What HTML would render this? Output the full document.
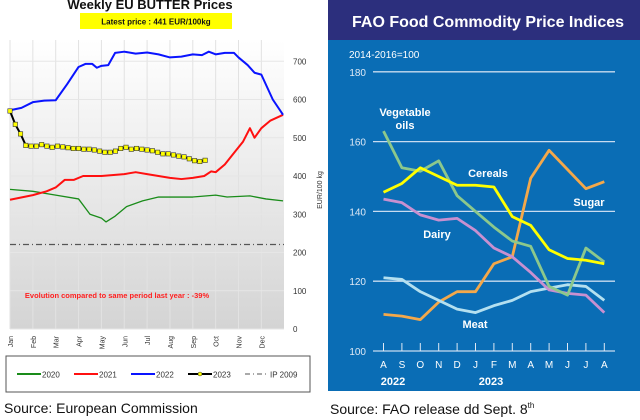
<!DOCTYPE html>
<html><head><meta charset="utf-8"><style>
body{margin:0;width:640px;height:420px;background:#fff;overflow:hidden;font-family:"Liberation Sans",sans-serif}
svg{position:absolute;left:0;top:0}
</style></head><body>
<svg width="640" height="420">
<defs><linearGradient id="bg" x1="0" y1="0" x2="0" y2="1"><stop offset="0" stop-color="#ffffff"/><stop offset="1" stop-color="#d4d4d4"/></linearGradient></defs>
<g id="left">
<text x="150" y="9" text-anchor="middle" font-size="13" font-weight="bold" fill="#111">Weekly EU BUTTER Prices</text>
<rect x="80" y="13" width="152" height="16" fill="#ffff00"/>
<text x="156" y="24.5" text-anchor="middle" font-size="8" font-weight="bold" fill="#111">Latest price : 441 EUR/100kg</text>
<rect x="10" y="40" width="274" height="289" fill="url(#bg)"/>
<g id="lgrid"></g>
<text x="117" y="298" text-anchor="middle" font-size="7.5" font-weight="bold" fill="#ff2020">Evolution compared to same period last year : -39%</text>
<text transform="translate(322,190) rotate(-90)" text-anchor="middle" font-size="7" fill="#333">EUR/100 kg</text>
<g id="lmarks"></g>
<rect x="6" y="356" width="304" height="36" fill="#fff" stroke="#555" stroke-width="1"/>
<g id="legend"></g>
<text x="4" y="413" font-size="14" fill="#111">Source: European Commission</text>
</g>
<g id="right">
<rect x="328" y="0" width="312" height="40" fill="#2c2f7d"/>
<text x="352" y="27" font-size="16" font-weight="bold" fill="#fff">FAO Food Commodity Price Indices</text>
<rect x="328" y="40" width="312" height="351" fill="#0a6db5"/>
<text x="349" y="58" font-size="10" fill="#fff">2014-2016=100</text>
<g id="rgrid"></g>
<g id="rmarks"></g>
<text x="405" y="116" text-anchor="middle" font-size="11" font-weight="bold" fill="#fff">Vegetable</text>
<text x="405" y="129" text-anchor="middle" font-size="11" font-weight="bold" fill="#fff">oils</text>
<text x="488" y="177" text-anchor="middle" font-size="11" font-weight="bold" fill="#fff">Cereals</text>
<text x="589" y="206" text-anchor="middle" font-size="11" font-weight="bold" fill="#fff">Sugar</text>
<text x="437" y="238" text-anchor="middle" font-size="11" font-weight="bold" fill="#fff">Dairy</text>
<text x="475" y="328" text-anchor="middle" font-size="11" font-weight="bold" fill="#fff">Meat</text>
<text x="393" y="385" text-anchor="middle" font-size="11" font-weight="bold" fill="#fff">2022</text>
<text x="491" y="385" text-anchor="middle" font-size="11" font-weight="bold" fill="#fff">2023</text>
<text x="330" y="414" font-size="14" fill="#111">Source: FAO release dd Sept. 8<tspan font-size="8" dy="-6">th</tspan></text>
</g>
</svg>
<script>
const NS="http://www.w3.org/2000/svg";
function mk(p,t,a){const e=document.createElementNS(NS,t);for(const k in a)e.setAttribute(k,a[k]);p.appendChild(e);return e;}
// ---- Left chart data ----
const monthLabels=["Jan","Feb","Mar","Apr","May","Jun","Jul","Aug","Sep","Oct","Nov","Dec"];
const yTicksL=[0,100,200,300,400,500,600,700];
const m2022=[0,0.5,1,1.5,2,2.5,3,3.3,3.6,3.8,4,4.3,4.6,5,5.5,6,6.5,7,7.5,8,8.4,8.7,9,9.4,9.8,10,10.4,10.7,11,11.5,11.95];
const v2022=[572,578,593,597,598,640,685,693,693,683,688,690,722,725,720,723,718,710,712,718,716,725,718,722,722,710,690,670,665,600,560];
const m2021=[0,1,1.6,2,2.4,2.8,3.2,4,5,5.5,6,6.5,7,7.5,8,8.5,8.8,9,9.4,9.8,10.2,10.5,10.7,11,11.4,11.95];
const v2021=[338,350,360,370,390,390,400,400,405,410,405,400,395,392,395,400,412,410,430,460,490,525,500,525,545,560];
const m2020=[0,1,2,3,3.5,4,4.2,4.6,5.1,5.8,6.5,8,9,9.5,10.5,11.2,11.95];
const v2020=[365,360,350,340,300,290,280,295,320,335,345,345,350,345,348,340,335];
const v2023=[570,535,510,480,478,478,482,478,475,478,476,474,472,472,470,470,468,465,462,462,465,472,475,470,472,470,468,466,462,458,458,455,452,450,445,440,438,441];
const ip2009=[221];
const lx=m=>10+m*22.85, ly=v=>329-v*0.3825;
const lg=document.getElementById('lgrid'), lm=document.getElementById('lmarks');
monthLabels.forEach((m,i)=>{
 const l=mk(lg,'line',{x1:lx(i),x2:lx(i),y1:40,y2:329,stroke:'#e2e2e2','stroke-width':1});
 
 
 const t=mk(lg,'text',{transform:`translate(${lx(i)+3},${336}) rotate(-90)`,'text-anchor':'end','font-size':7,fill:'#333'});
 t.textContent=m;
 
 
});
yTicksL.forEach(v=>{
 const l=mk(lg,'line',{x1:10,x2:284,y1:ly(v),y2:ly(v),stroke:'#e6e6e6','stroke-width':1});
 
 
 const t=mk(lg,'text',{x:293,y:ly(v)+3,'font-size':8,fill:'#333'});
 t.textContent=v;
 
 
});
const ip=mk(lm,'line',{x1:10,x2:284,y1:ly(ip2009[0]),y2:ly(ip2009[0]),stroke:'#555','stroke-width':1.2,'stroke-dasharray':'6,3,1,3'});


function lline(ms,vs,c,name){const p=mk(lm,'polyline',{points:ms.map((m,i)=>lx(m)+','+ly(vs[i])).join(' '),fill:'none',stroke:c,'stroke-width':name=='line-2020'?1.3:2,'stroke-linejoin':'round'});
 
 }
lline(m2020,v2020,'#1a8c1a','line-2020');
lline(m2021,v2021,'#ff1010','line-2021');
lline(m2022,v2022,'#0a14ff','line-2022');
const wk=12/52;
lline(v2023.map((v,i)=>i*wk),v2023,'#000','line-2023');
v2023.forEach((v,i)=>{const r=mk(lm,'rect',{x:lx(i*wk)-2.2,y:ly(v)-2.2,width:4.4,height:4.4,fill:'#ffff00',stroke:'#333','stroke-width':0.6});
 
 });
const leg=document.getElementById('legend');
[["2020","#1a8c1a",17],["2021","#ff1010",74],["2022","#0a14ff",131],["2023","#000",188],["IP 2009","#555",245]].forEach(([n,c,x])=>{
 const g=mk(leg,'g',{});
 
 
 mk(g,'line',{x1:x,x2:x+24,y1:374,y2:374,stroke:c,'stroke-width':n=="IP 2009"?1:2,'stroke-dasharray':n=="IP 2009"?'5,3,1,3':'none'});
 if(n=="2023")mk(g,'circle',{cx:x+12,cy:374,r:2,fill:'#ff0',stroke:'#333','stroke-width':0.5});
 const t=mk(g,'text',{x:x+25,y:377.5,'font-size':8,fill:'#333'});t.textContent=n;
});
// ---- Right chart data ----
const months=["A","S","O","N","D","J","F","M","A","M","J","J","A"];
const yTicksR=[100,120,140,160,180];
const cereals=[145.5,148,152.5,150,147.5,147.5,147,138.5,136,129,126.5,126,125];
const vegOils=[163,152.5,151.5,154.5,144.5,140,135.5,131.5,130,118.5,116,129.5,125.5];
const dairy=[143.5,142.5,139,137.5,138,134.5,129.5,127,122.5,117.5,116.5,116,111];
const meat=[121,120.5,117,114.5,112,111,113,114.5,117,118,119,118.5,114.5];
const sugar=[110.5,110,109,114,117,117,125,127,149.5,157.5,152,146.5,148.5];
const rx=i=>383.5+i*18.4, ry=v=>351-(v-100)*3.49;
const rg=document.getElementById('rgrid'), rm=document.getElementById('rmarks');
yTicksR.forEach(v=>{
 const l=mk(rg,'line',{x1:373,x2:615,y1:ry(v),y2:ry(v),stroke:'#c8dcf0','stroke-width':1.3});
 
 
 const t=mk(rg,'text',{x:366,y:ry(v)+4,'text-anchor':'end','font-size':10,fill:'#dfe9f5'});
 t.textContent=v;
 
 
});
months.forEach((m,i)=>{
 const l=mk(rg,'line',{x1:rx(i),x2:rx(i),y1:ry(100)-8,y2:ry(100),stroke:'#dfe9f5','stroke-width':1});
 
 
 const t=mk(rg,'text',{x:rx(i),y:368,'text-anchor':'middle','font-size':10,fill:'#fff'});
 t.textContent=m;
 
 
});
function rline(vs,c,name){const p=mk(rm,'polyline',{points:vs.map((v,i)=>rx(i)+','+ry(v)).join(' '),fill:'none',stroke:c,'stroke-width':2.8,'stroke-linejoin':'round'});
 
 }
rline(sugar,'#f4a84a','sugar-line');
rline(meat,'#b4e0f0','meat-line');
rline(dairy,'#c890d0','dairy-line');
rline(vegOils,'#8cc88c','vegetable-oils-line');
rline(cereals,'#ffff00','cereals-line');
</script>
</body></html>
